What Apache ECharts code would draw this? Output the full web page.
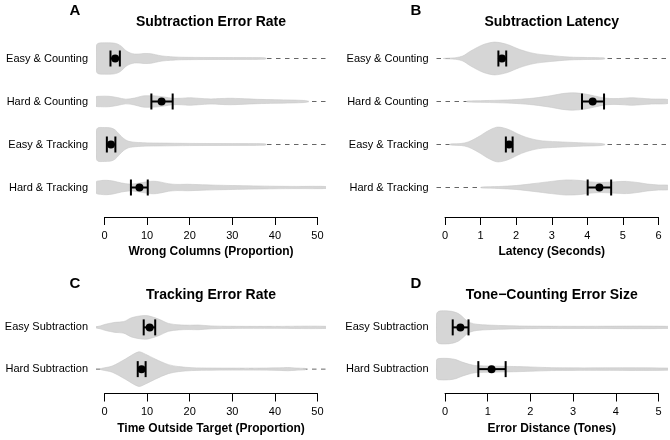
<!DOCTYPE html>
<html><head><meta charset="utf-8">
<script src="https://cdn.jsdelivr.net/npm/echarts@6/dist/echarts.min.js"></script>
<style>html,body{margin:0;padding:0;background:#fff}#c{width:670px;height:440px}</style>
</head><body><div id="c"></div>
<script>
// ================= DATA =================
const panelLetters = ['A', 'B', 'C', 'D'];
const panelTitles = ['Subtraction Error Rate', 'Subtraction Latency', 'Tracking Error Rate', 'Tone\u2212Counting Error Size'];
const axisTitles = ['Wrong Columns (Proportion)', 'Latency (Seconds)', 'Time Outside Target (Proportion)', 'Error Distance (Tones)'];

const subtractionCats = ['Easy & Counting', 'Hard & Counting', 'Easy & Tracking', 'Hard & Tracking'];
const secondaryCats = ['Easy Subtraction', 'Hard Subtraction'];

const ticksA = [0, 10, 20, 30, 40, 50];
const ticksB = [0, 1, 2, 3, 4, 5, 6];
const ticksC = [0, 10, 20, 30, 40, 50];
const ticksD = [0, 1, 2, 3, 4, 5];

// means and confidence intervals
const meanA = [2.5, 13.4, 1.5, 8.2];
const ciLowA = [1.4, 11.0, 0.55, 6.2];
const ciHighA = [3.6, 16.0, 2.55, 10.15];

const meanB = [1.6, 4.15, 1.8, 4.34];
const ciLowB = [1.5, 3.85, 1.71, 4.01];
const ciHighB = [1.72, 4.47, 1.9, 4.67];

const meanC = [10.6, 8.7];
const ciLowC = [9.2, 7.8];
const ciHighC = [11.9, 9.65];

const meanD = [0.36, 1.09];
const ciLowD = [0.18, 0.78];
const ciHighD = [0.55, 1.42];

// violin densities: [value, relative density]
const violinA_easyCounting = [[-2.0,0.61],[-1.6,0.83],[0,0.87],[2,0.86],[3,0.81],[4,0.67],[5,0.44],[6,0.31],[7,0.25],[8,0.25],[9.5,0.28],[11,0.26],[12,0.21],[13.5,0.14],[15.5,0.10],[18,0.07],[25,0.055],[32,0.05],[37.5,0.04],[38,0]];
const violinA_hardCounting = [[-2,0.25],[-1,0.29],[1,0.29],[3,0.22],[5,0.13],[7,0.19],[9,0.31],[10.5,0.32],[12,0.31],[14,0.25],[16,0.18],[18,0.18],[20,0.21],[22,0.18],[25,0.14],[27,0.16],[29.5,0.18],[32,0.16],[36,0.12],[40,0.10],[44,0.08],[47,0.055],[48,0]];
const violinA_easyTracking = [[-2,0.67],[-1.6,0.92],[0,0.94],[1.5,0.92],[2.5,0.81],[3.5,0.56],[4.5,0.33],[5.5,0.19],[6.5,0.14],[8,0.11],[10,0.09],[13,0.08],[20,0.06],[30,0.05],[37.5,0.04],[38,0]];
const violinA_hardTracking = [[-2,0.31],[-1,0.38],[0.5,0.40],[2,0.36],[4,0.25],[6,0.19],[8,0.24],[10,0.32],[11.5,0.35],[13,0.31],[15,0.21],[17,0.17],[19.5,0.18],[22,0.16],[26,0.13],[30,0.11],[35,0.09],[40,0.07],[45,0.06],[52.5,0.05]];

const violinB_easyCounting = [[-0.05,0],[0.3,0.045],[0.5,0.14],[0.7,0.39],[0.9,0.61],[1.1,0.79],[1.4,0.91],[1.75,0.78],[2.1,0.5],[2.5,0.28],[2.95,0.17],[3.5,0.08],[4.0,0.055],[4.45,0.035],[4.5,0]];
const violinB_hardCounting = [[0.6,0],[0.65,0.03],[1.0,0.045],[1.5,0.07],[2.0,0.11],[2.5,0.19],[3.0,0.33],[3.3,0.44],[3.6,0.48],[3.9,0.43],[4.2,0.31],[4.5,0.19],[4.75,0.16],[5.0,0.18],[5.25,0.21],[5.5,0.18],[5.8,0.14],[6.3,0.10]];
const violinB_easyTracking = [[0.12,0],[0.2,0.035],[0.45,0.055],[0.65,0.14],[0.85,0.33],[1.0,0.5],[1.2,0.75],[1.45,0.96],[1.65,0.92],[1.85,0.78],[2.05,0.58],[2.25,0.42],[2.5,0.28],[2.75,0.2],[3.3,0.14],[3.9,0.09],[4.4,0.055],[4.5,0]];
const violinB_hardTracking = [[1.0,0],[1.05,0.03],[1.5,0.055],[2.0,0.11],[2.5,0.22],[3.0,0.34],[3.4,0.42],[3.8,0.39],[4.1,0.31],[4.4,0.28],[4.8,0.32],[5.1,0.34],[5.4,0.28],[5.7,0.19],[6.0,0.14],[6.3,0.11]];

const violinC_easy = [[-2.2,0],[-2.0,0.03],[-1,0.08],[0.2,0.17],[2.5,0.28],[4.5,0.32],[6.4,0.54],[8.8,0.65],[10.3,0.64],[12.7,0.46],[15,0.22],[17.4,0.14],[20,0.12],[22,0.13],[25,0.08],[30,0.06],[40,0.055],[52.5,0.055]];
const violinC_hard = [[-1.0,0],[-0.6,0.045],[1.8,0.17],[4.9,0.56],[8,0.96],[9.6,0.83],[11.9,0.56],[15,0.25],[17.4,0.14],[20.5,0.08],[25,0.06],[35,0.055],[41,0.07],[43,0.09],[45,0.06],[47,0.04],[47.3,0]];

const violinD_easy = [[-0.2,0.72],[-0.15,0.89],[0,0.92],[0.15,0.89],[0.3,0.78],[0.4,0.61],[0.5,0.39],[0.6,0.25],[0.75,0.17],[1.0,0.13],[1.5,0.09],[2.0,0.07],[3,0.06],[5.3,0.055]];
const violinD_hard = [[-0.2,0.5],[-0.15,0.59],[0.1,0.59],[0.25,0.53],[0.4,0.39],[0.55,0.28],[0.7,0.2],[0.9,0.18],[1.3,0.16],[1.7,0.14],[2.0,0.12],[2.5,0.08],[3.0,0.07],[5.3,0.055]];

// ================= LAYOUT / STYLE =================
const FONT = '"Liberation Sans", Arial, Helvetica, sans-serif';
const VIOLIN_HALF = 18;     // px half-width for density 1
const VIOLIN_FILL = '#d6d6d6';
const VIOLIN_STROKE = '#c8c8c8';

const panels = [
  {ticks: ticksA, cats: subtractionCats, violins: [violinA_easyCounting, violinA_hardCounting, violinA_easyTracking, violinA_hardTracking],
   mean: meanA, lo: ciLowA, hi: ciHighA, plot: {left: 96, top: 37, width: 230, height: 172}, axisY: 217, letter: [75, 10.5], titleY: 22},
  {ticks: ticksB, cats: subtractionCats, violins: [violinB_easyCounting, violinB_hardCounting, violinB_easyTracking, violinB_hardTracking],
   mean: meanB, lo: ciLowB, hi: ciHighB, plot: {left: 436.5, top: 37, width: 230.5, height: 172}, axisY: 217, letter: [416, 10.5], titleY: 22},
  {ticks: ticksC, cats: secondaryCats, violins: [violinC_easy, violinC_hard],
   mean: meanC, lo: ciLowC, hi: ciHighC, plot: {left: 96, top: 306.5, width: 230, height: 83.5}, axisY: 393.5, letter: [75, 283.5], titleY: 295},
  {ticks: ticksD, cats: secondaryCats, violins: [violinD_easy, violinD_hard],
   mean: meanD, lo: ciLowD, hi: ciHighD, plot: {left: 436.5, top: 306.5, width: 230.5, height: 83.5}, axisY: 393.5, letter: [416, 283.5], titleY: 295}
];

const grid = [], xAxis = [], yAxis = [], series = [], graphic = [];

panels.forEach((p, i) => {
  const tmin = p.ticks[0], tmax = p.ticks[p.ticks.length - 1];
  const span = tmax - tmin, pad = span * 0.04;
  const dmin = tmin - pad, dmax = tmax + pad;
  grid[i] = {left: p.plot.left, top: p.plot.top, width: p.plot.width, height: p.plot.height, containLabel: false};
  const pxPerUnit = p.plot.width / (dmax - dmin);
  grid[4 + i] = {left: p.plot.left + pad * pxPerUnit, width: span * pxPerUnit, top: p.axisY - 10, height: 10};

  xAxis[i] = {gridIndex: i, type: 'value', min: dmin, max: dmax, show: false};
  yAxis[i] = {gridIndex: i, type: 'category', data: p.cats, inverse: true,
    axisLine: {show: false}, axisTick: {show: false}, splitLine: {show: false},
    axisLabel: {margin: 8, fontSize: 11, color: '#000', fontFamily: FONT}};

  series.push({
    type: 'custom', xAxisIndex: i, yAxisIndex: i, clip: true, silent: true, z: 1,
    data: p.cats.map((c, j) => [dmin, j, dmax]),
    encode: {x: [0, 2], y: 1},
    renderItem: (params, api) => {
      const a = api.coord([api.value(0), api.value(1)]);
      const b = api.coord([api.value(2), api.value(1)]);
      return {type: 'line', shape: {x1: a[0], y1: a[1], x2: b[0], y2: b[1]},
        style: {stroke: '#666666', lineWidth: 1, lineDash: [4.5, 4.5]}};
    }
  });

  series.push({
    type: 'custom', xAxisIndex: i, yAxisIndex: i, clip: true, silent: true, z: 2,
    data: p.cats.map((c, j) => [p.mean[j], j]),
    encode: {x: 0, y: 1},
    renderItem: (params, api) => {
      const j = api.value(1);
      const v = p.violins[j];
      const top = [], bot = [];
      v.forEach(([x, d]) => {
        const c = api.coord([x, j]);
        const h = d * VIOLIN_HALF;
        top.push([c[0], c[1] - h]);
        if (d > 0) bot.push([c[0], c[1] + h]);
      });
      const pts = top.concat(bot.reverse());
      return {type: 'polygon', shape: {points: pts, smooth: 0.3},
        style: {fill: VIOLIN_FILL, stroke: VIOLIN_STROKE, lineWidth: 0.6}};
    }
  });

  series.push({
    type: 'custom', xAxisIndex: i, yAxisIndex: i, clip: false, silent: true, z: 3,
    data: p.cats.map((c, j) => [p.lo[j], j, p.hi[j], p.mean[j]]),
    encode: {x: [0, 2, 3], y: 1},
    renderItem: (params, api) => {
      const j = api.value(1);
      const l = api.coord([api.value(0), j]);
      const h = api.coord([api.value(2), j]);
      const m = api.coord([api.value(3), j]);
      const cap = 8;
      const st = {stroke: '#000', lineWidth: 2};
      return {type: 'group', children: [
        {type: 'line', shape: {x1: l[0], y1: l[1], x2: h[0], y2: h[1]}, style: st},
        {type: 'line', shape: {x1: l[0], y1: l[1] - cap, x2: l[0], y2: l[1] + cap}, style: st},
        {type: 'line', shape: {x1: h[0], y1: h[1] - cap, x2: h[0], y2: h[1] + cap}, style: st},
        {type: 'circle', shape: {cx: m[0], cy: m[1], r: 4}, style: {fill: '#000'}}
      ]};
    }
  });

  xAxis[4 + i] = {gridIndex: 4 + i, type: 'value', min: tmin, max: tmax, interval: p.ticks[1] - p.ticks[0],
    axisLine: {show: true, lineStyle: {color: '#000', width: 1}},
    axisTick: {show: true, length: 8, lineStyle: {color: '#000', width: 1}},
    axisLabel: {margin: 13, fontSize: 11, color: '#000', fontFamily: FONT,
      formatter: (val) => String(val)},
    splitLine: {show: false},
    name: axisTitles[i], nameLocation: 'middle', nameGap: 29,
    nameTextStyle: {fontWeight: 'bold', fontSize: 12, color: '#000', fontFamily: FONT}};
  yAxis[4 + i] = {gridIndex: 4 + i, type: 'value', min: 0, max: 1, show: false};

  graphic.push({type: 'text', x: p.letter[0], y: p.letter[1], silent: true,
    style: {text: panelLetters[i], font: 'bold 15px ' + FONT, fill: '#000',
      textAlign: 'center', textVerticalAlign: 'middle', align: 'center', verticalAlign: 'middle'}});
  graphic.push({type: 'text', x: p.plot.left + p.plot.width / 2, y: p.titleY, silent: true,
    style: {text: panelTitles[i], font: 'bold 14px ' + FONT, fill: '#000',
      textAlign: 'center', textVerticalAlign: 'middle', align: 'center', verticalAlign: 'middle'}});
});

const chart = echarts.init(document.getElementById('c'), null, {renderer: 'canvas'});
chart.setOption({animation: false, backgroundColor: '#fff', grid, xAxis, yAxis, series, graphic});
</script></body></html>
